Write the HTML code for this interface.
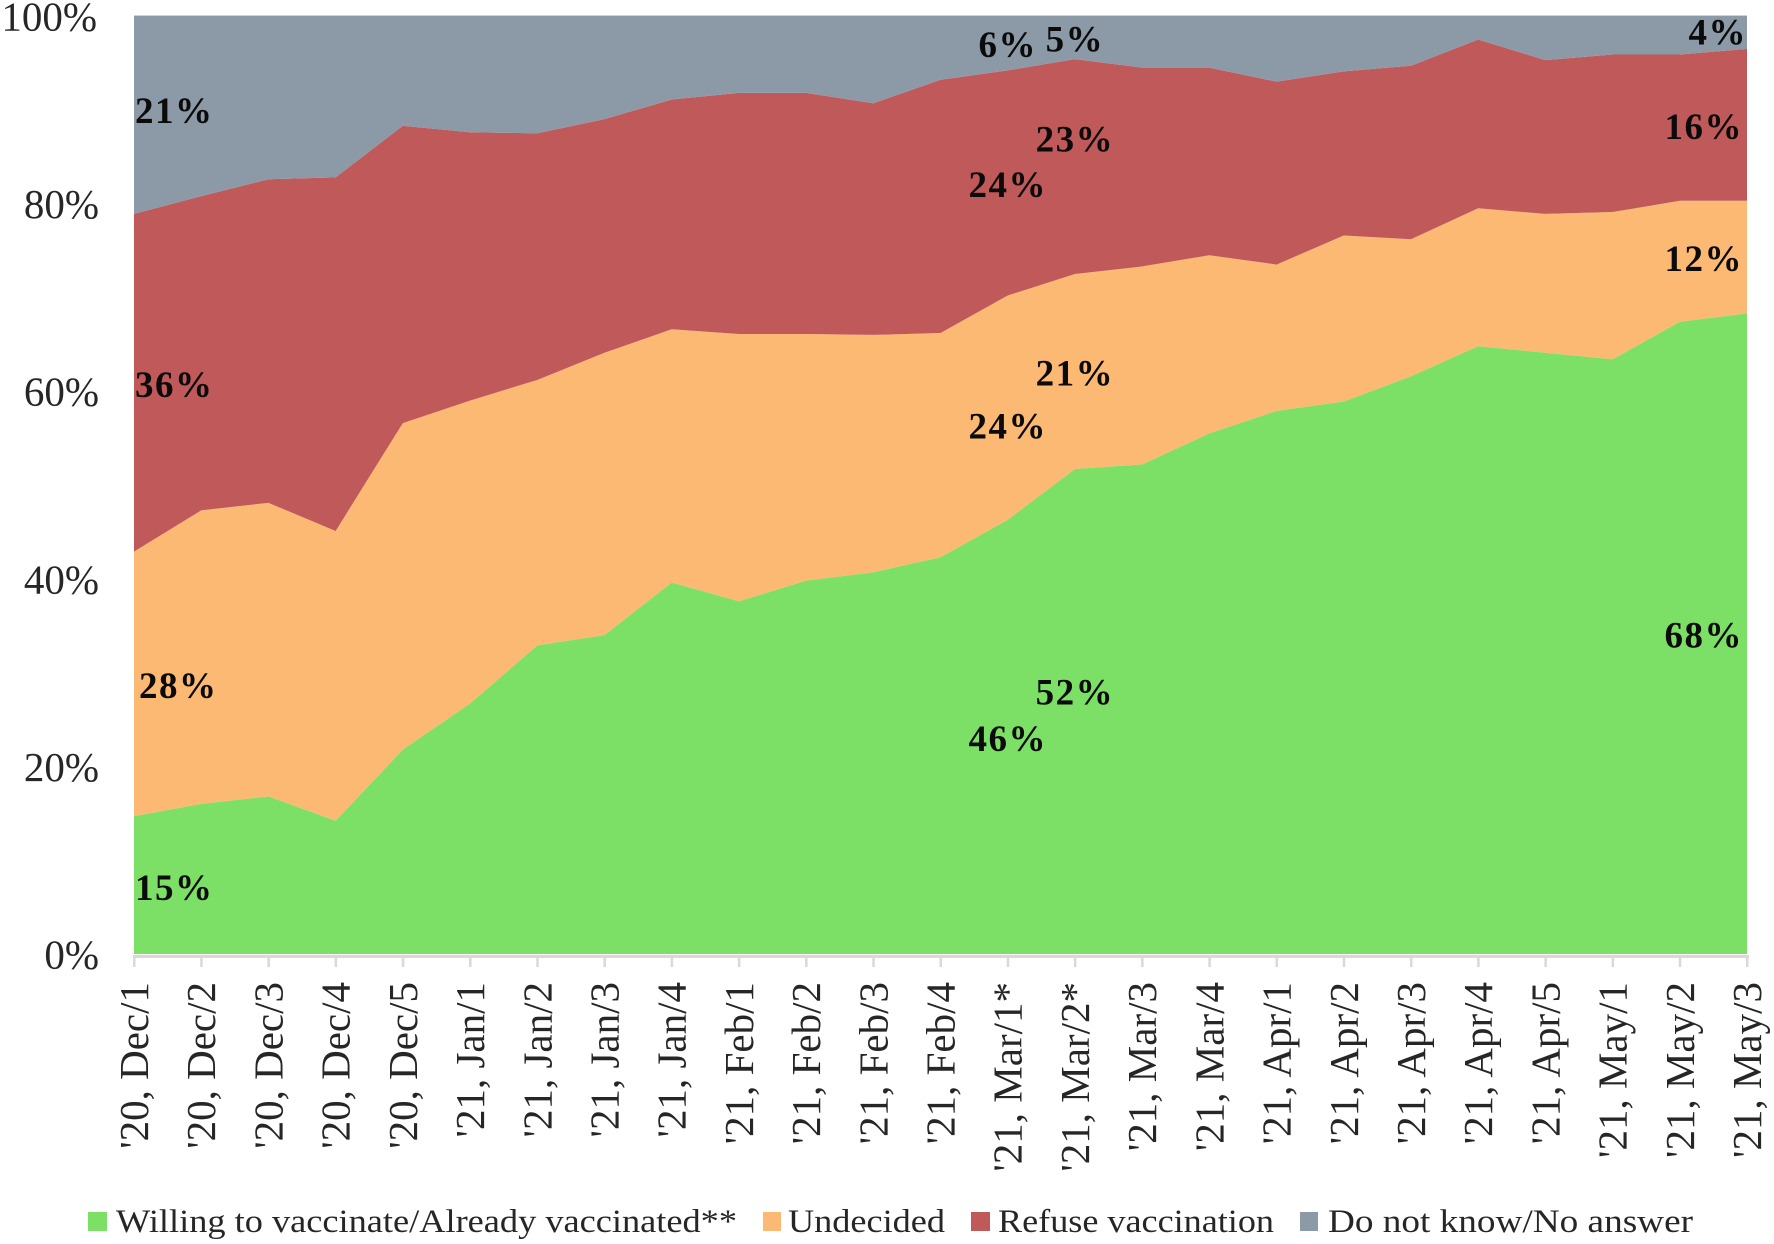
<!DOCTYPE html>
<html lang="en">
<head>
<meta charset="utf-8">
<title>Vaccination willingness stacked area chart</title>
<style>
  html, body { margin: 0; padding: 0; background: #fff; }
  svg { display: block; }
  text { font-family: "Liberation Serif", serif; fill: #262626; }
  .tick { font-size: 41px; }
  .legend { font-size: 33px; }
  .value { font-size: 37px; font-weight: bold; fill: #0b0b0b; letter-spacing: 1.5px; }
</style>
</head>
<body>
<svg id="chart" xmlns="http://www.w3.org/2000/svg" width="1774" height="1244" viewBox="0 0 1774 1244">
  <g id="areas"></g>
  <g id="x-axis"></g>
  <g id="y-axis"></g>
  <g id="values"></g>
  <g>
    <g>
      <rect x="88" y="1212" width="19" height="19" fill="#7de066"></rect>
      <text class="legend" x="116" y="1232" textLength="621" lengthAdjust="spacingAndGlyphs">Willing to vaccinate/Already vaccinated**</text>
    </g>
    <g>
      <rect x="763" y="1212" width="18" height="19" fill="#fbb974"></rect>
      <text class="legend" x="788" y="1232" textLength="157" lengthAdjust="spacingAndGlyphs">Undecided</text>
    </g>
    <g>
      <rect x="971" y="1212" width="19" height="19" fill="#c0595a"></rect>
      <text class="legend" x="998" y="1232" textLength="276" lengthAdjust="spacingAndGlyphs">Refuse vaccination</text>
    </g>
    <g>
      <rect x="1300" y="1212" width="18" height="19" fill="#8c99a6"></rect>
      <text class="legend" x="1328" y="1232" textLength="365" lengthAdjust="spacingAndGlyphs">Do not know/No answer</text>
    </g>
  </g>
</svg>
<script>
const categories = ["'20, Dec/1","'20, Dec/2","'20, Dec/3","'20, Dec/4","'20, Dec/5","'21, Jan/1","'21, Jan/2","'21, Jan/3","'21, Jan/4","'21, Feb/1","'21, Feb/2","'21, Feb/3","'21, Feb/4","'21, Mar/1*","'21, Mar/2*","'21, Mar/3","'21, Mar/4","'21, Apr/1","'21, Apr/2","'21, Apr/3","'21, Apr/4","'21, Apr/5","'21, May/1","'21, May/2","'21, May/3"];
const willing = [14.7,16.0,16.8,14.2,21.8,26.7,32.9,34.0,39.6,37.6,39.8,40.7,42.3,46.3,51.7,52.2,55.5,57.9,58.9,61.6,64.8,64.1,63.4,67.4,68.3];
const undecided = [28.2,31.3,31.3,30.9,34.8,32.3,28.3,30.1,27.0,28.5,26.3,25.3,23.9,23.9,20.8,21.1,19.0,15.6,17.7,14.6,14.7,14.8,15.7,12.9,12.0];
const refuse = [36.0,33.5,34.5,37.7,31.7,28.6,26.3,24.9,24.5,25.7,25.7,24.7,27.0,24.0,22.9,21.2,20.0,19.5,17.5,18.5,18.0,16.4,16.8,15.6,16.2];
const noAnswer = [21.1,19.2,17.4,17.2,11.7,12.4,12.5,11.0,8.9,8.2,8.2,9.3,6.8,5.8,4.6,5.5,5.5,7.0,5.9,5.3,2.5,4.7,4.1,4.1,3.5];
const yTicks = [0,20,40,60,80,100];
const labelledCategories = ["'20, Dec/1","'21, Mar/1*","'21, Mar/2*","'21, May/3"];

const NS = 'http://www.w3.org/2000/svg';
const plot = { left: 134, right: 1747, top: 16, bottom: 954 };
const x = i => plot.left + i * (plot.right - plot.left) / (categories.length - 1);
const y = v => plot.bottom - v / 100 * (plot.bottom - plot.top);

const stack = [
  { key: 'willing', values: willing, color: '#7de066' },
  { key: 'undecided', values: undecided, color: '#fbb974' },
  { key: 'refuse', values: refuse, color: '#c0595a' },
  { key: 'no-answer', values: noAnswer, color: '#8c99a6' }
];

function make(tag, parent, attrs, text) {
  const el = document.createElementNS(NS, tag);
  Object.keys(attrs).forEach(k => el.setAttribute(k, attrs[k]));
  if (text !== undefined) el.textContent = text;
  parent.appendChild(el);
  return el;
}

function labelNudge(key, i) {
  if (key === 'no-answer' && i === 0) return -6;
  if (key === 'willing' && i === 0) return 1;
  if (key === 'refuse' && i === 14) return -29;
  if (key === 'undecided' && i === 13) return 17;
  if (key === 'willing' && i === 14) return -21;
  if (key === 'no-answer' && i === 24) return -2;
  return 0;
}

const areasG = document.getElementById('areas');
const valuesG = document.getElementById('values');
const xG = document.getElementById('x-axis');
const yG = document.getElementById('y-axis');

let base = categories.map(() => 0);
stack.forEach(s => {
  const tops = base.map((b, i) => b + s.values[i]);
  const upper = tops.map((t, i) => x(i).toFixed(2) + ',' + y(t).toFixed(2));
  const lower = base.map((b, i) => x(i).toFixed(2) + ',' + y(b).toFixed(2)).reverse();
  const poly = make('polygon', areasG, { points: upper.concat(lower).join(' '), fill: s.color });
  
  
  s.base = base;
  base = tops;
});

const frameTop = make('line', areasG, { x1: plot.left, x2: plot.right, y1: plot.top - 0.5, y2: plot.top - 0.5, stroke: '#cfd2d6', 'stroke-width': 1 });



const axisLine = make('rect', xG, { x: plot.left - 1, y: 955, width: plot.right - plot.left + 3, height: 3, fill: '#d9d9d9' });



categories.forEach((c, i) => {
  const tick = make('rect', xG, { x: x(i) - 1, y: 955, width: 2.5, height: 12, fill: '#d9d9d9' });
  
  
  const bx = x(i) + 14;
  const label = make('text', xG, { class: 'tick', x: bx, y: 982, 'text-anchor': 'end', transform: 'rotate(-90 ' + bx + ' 982)' }, c);
  
  
});

yTicks.forEach(t => {
  const label = make('text', yG, { class: 'tick', x: t === 100 ? 97 : 99, y: y(t) + 14.5, 'text-anchor': 'end' }, t + '%');
  
  
});

labelledCategories.forEach(name => {
  const i = categories.indexOf(name);
  stack.forEach(s => {
    const v = s.values[i];
    const mid = s.base[i] + v / 2;
    let anchor = 'middle';
    let px = x(i);
    if (i === 0) { anchor = 'start'; px = x(i) + (s.key === 'undecided' ? 5 : 1); }
    if (i === categories.length - 1) { anchor = 'end'; px = x(i) - (s.key === 'no-answer' ? 0 : 4); }
    const label = make('text', valuesG, { class: 'value', x: px, y: y(mid) + 14 + labelNudge(s.key, i), 'text-anchor': anchor }, Math.round(v) + '%');
    
    
  });
});
</script>
</body>
</html>
